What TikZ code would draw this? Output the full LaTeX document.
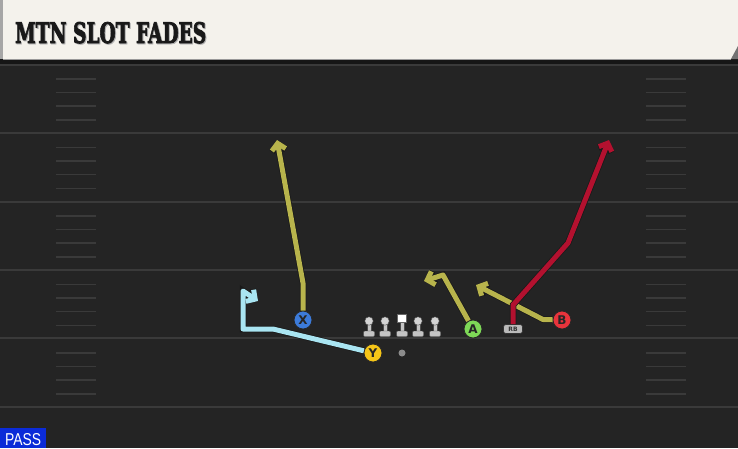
\documentclass[tikz,border=0pt]{standalone}
\usepackage{graphicx}
\usepackage{fontspec}
\setmainfont{DejaVu Sans}
\newfontfamily\titlefont{DejaVu Serif}[FakeBold=3]
\newfontfamily\passfont{Liberation Sans}
\usetikzlibrary{arrows.meta}
\definecolor{fieldbg}{HTML}{242424}
\definecolor{darkband}{HTML}{161616}
\definecolor{yardline}{HTML}{3A3A3A}
\definecolor{titlebg}{HTML}{F4F2EC}
\definecolor{olive}{HTML}{B8B44C}
\definecolor{routered}{HTML}{B3112F}
\definecolor{cyanroute}{HTML}{A9E5F2}
\definecolor{xblue}{HTML}{3C7BDA}
\definecolor{yyellow}{HTML}{F5C518}
\definecolor{agreen}{HTML}{7ED957}
\definecolor{bred}{HTML}{E8343C}
\definecolor{passblue}{HTML}{0B2BD8}
\definecolor{linegray}{HTML}{C4C4C4}
\tikzset{
  player/.style={circle, draw=black!85, line width=0.8pt, minimum size=18pt, inner sep=0pt,
    font=\fontsize{12}{12}\selectfont\bfseries, text=black!85},
  route/.style={line width=5pt, line join=round, line cap=butt,
    preaction={draw=black!90, line width=6.5pt}},
  routetip/.style={-{Straight Barb[length=6.5pt,width=14pt]}},
  hashmark/.style={draw=yardline, line width=1.5pt},
  yardmark/.style={draw=yardline, line width=2pt},
  lineman/.style={fill=linegray, draw=black!70, line width=0.4pt},
}
\begin{document}
\begin{tikzpicture}[x=1pt,y=-1pt]
\useasboundingbox (0,0) rectangle (738,448);
% field
\fill[fieldbg] (0,0) rectangle (738,448);
\fill[darkband] (0,59) rectangle (738,64);
% yard lines
\foreach \yy in {65,133,202,270,338,407} {
  \draw[yardmark] (0,\yy) -- (738,\yy);
}
% hash marks
\foreach \yy in {65,133.5,202,270.5,339} {
  \foreach \dd in {14,27.5,41,55} {
    \draw[hashmark] (56,\yy+\dd) -- (96,\yy+\dd);
    \draw[hashmark] (646,\yy+\dd) -- (686,\yy+\dd);
  }
}
% title bar
\fill[titlebg] (0,0) rectangle (738,59);
\fill[black!35] (0,0) rectangle (3,59);
\fill[black!55] (731,59) -- (738,59) -- (738,46) -- cycle;
\draw[black!40, line width=0.8pt] (3,59) -- (731,59);
\node[anchor=base west, inner sep=0pt, text=black!30] (titleshadow) at (16,44)
  {\resizebox{191pt}{21pt}{\titlefont\bfseries MTN SLOT FADES}};
\node[anchor=base west, inner sep=0pt, text=black!90] (title) at (15,43)
  {\resizebox{191pt}{21pt}{\titlefont\bfseries MTN SLOT FADES}};
% PASS label
\fill[passblue] (0,428) rectangle (46,448);
\node[anchor=base west, inner sep=0pt, text=white] (pass) at (5,445)
  {\resizebox{36pt}{12pt}{\passfont PASS}};
% linemen
\foreach \lx in {369,385,418,435} {
  \fill[lineman] (\lx-2,322) rectangle (\lx+2,331.5);
  \fill[lineman, rounded corners=1pt] (\lx-5.5,331) rectangle (\lx+5.5,336.5);
  \fill[lineman, fill=linegray!75!white] (\lx,321) circle (4.2);
}
\fill[lineman] (400,322) rectangle (404,331.5);
\fill[lineman, rounded corners=1pt] (396.5,331) rectangle (407.5,336.5);
\fill[white, draw=black!60, line width=0.4pt] (397.5,314) rectangle (406.5,322.5);
% ball
\node[circle, fill=black!45, minimum size=7pt, inner sep=0pt] (ball) at (402,353) {};
% players
\node[player, fill=xblue] (X) at (303,320) {X};
\node[player, fill=yyellow] (Y) at (373,353) {Y};
\node[player, fill=agreen] (A) at (473,329) {A};
\node[player, fill=bred] (B) at (562,320) {B};
\node[rounded corners=2.5pt, fill=black!27, draw=black!80, line width=0.6pt, minimum width=19pt,
  minimum height=9pt, inner sep=0pt, font=\fontsize{6}{6}\selectfont\bfseries, text=black!80]
  (RB) at (513,329) {RB};
% route waypoints
\coordinate (x1) at (303,283);
\coordinate (x2) at (277,140);
\coordinate (y1) at (273,329);
\coordinate (y2) at (243,329);
\coordinate (y3) at (243,291);
\coordinate (y4) at (258,301);
\coordinate (a1) at (443,275);
\coordinate (a2) at (424,281);
\coordinate (b1) at (543,319.5);
\coordinate (b2) at (476,285);
\coordinate (r1) at (513,305);
\coordinate (r2) at (568,243);
\coordinate (r3) at (609,140);
% routes
\draw[route, routetip, draw=olive] (X) -- (x1) -- (x2);
\draw[route, routetip, draw=cyanroute] (Y) -- (y1) -- (y2) -- (y3) -- (y4);
\draw[route, routetip, draw=olive] (A) -- (a1) -- (a2);
\draw[route, routetip, draw=olive] (B) -- (b1) -- (b2);
\draw[route, routetip, draw=routered] (RB) -- (r1) -- (r2) -- (r3);
\end{tikzpicture}
\end{document}
